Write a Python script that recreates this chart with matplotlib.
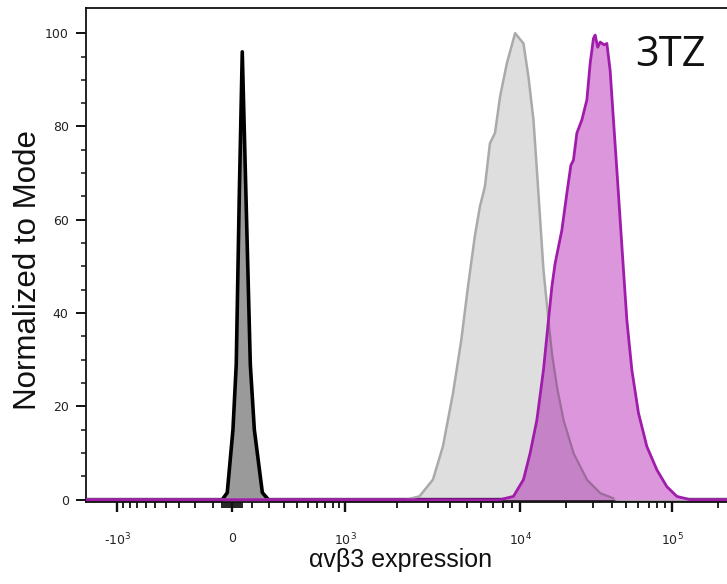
import numpy as np
import matplotlib
matplotlib.use("Agg")
import matplotlib.pyplot as plt
from matplotlib.ticker import FixedLocator, NullFormatter

# ---------------- data (fluorescence intensity vs. % of mode) ----------------
ctrl_x = [-1710, -50.3, -25.1, 3.6, 20.4, 35.8, 51.3, 70.6, 93.5, 115.2, 160.2, 196.3, 230000]
ctrl_y = [0, 0, 1.5, 15, 29, 65, 96, 65, 29, 15, 1.5, 0, 0]

gray_x = [-1710, 2250, 2680, 3200, 3645, 4160, 4640, 5060, 5530, 5910, 6310,
          6740, 7200, 7690, 8400, 9360, 10510, 11340, 12230, 12880, 13540,
          14230, 15350, 16170, 17430, 19270, 22420, 27470, 33600, 43270, 230000]
gray_y = [0, 0, 0.7, 4.3, 11.4, 22.8, 34.3, 45.7, 56.4, 62.8, 67.1,
          76.4, 78.6, 86.4, 93.5, 100, 97.8, 90.6, 81.4, 70.7, 60,
          49.3, 38.5, 31.4, 24.3, 17.1, 10, 4.3, 1.4, 0, 0]

tz_x = [-1710, 7690, 9155, 10510, 11635, 12880, 14230, 15355, 16170, 16990,
        18810, 20290, 21560, 22420, 23610, 25460, 27470, 28870, 30350, 31140,
        32370, 33600, 35690, 37190, 39090, 41100, 43270, 45490, 47820, 50350,
        54320, 60010, 68170, 79320, 92290, 107400, 131300, 230000]
tz_y = [0, 0, 0.7, 4.3, 10, 17.1, 27.8, 38.5, 45.7, 50.7,
        57.8, 65.7, 71.7, 72.8, 78.6, 81.4, 85.7, 93.5, 98.9, 99.6,
        97, 98.1, 97.5, 97.8, 92, 81.4, 70.7, 60, 49.3, 38.5,
        27.8, 18.6, 11.4, 6.4, 2.8, 0.7, 0, 0]

x_ticks = [-1e3, 0, 1e3, 1e4, 1e5]
x_tick_labels = [r"-$10^3$", "0", r"$10^3$", r"$10^4$", r"$10^5$"]
y_ticks = [0, 20, 40, 60, 80, 100]
X_MIN, X_MAX = -1712, 229600
Y_MIN, Y_MAX = -0.5, 105.4

# ---------------- biexponential-like display scale ----------------
COF = 300.0
KNOT_U = np.arcsinh(np.array([-1e6, -1e3, 0, 1e3, 1e4, 1e5, 1e7]) / COF)
KNOT_P = np.array([-294.5, 117, 232, 345, 520, 672, 976])


def fwd(x):
    x = np.asarray(x, dtype=float)
    return np.interp(np.arcsinh(x / COF), KNOT_U, KNOT_P)


def inv(p):
    p = np.asarray(p, dtype=float)
    return COF * np.sinh(np.interp(p, KNOT_P, KNOT_U))


fig = plt.figure(figsize=(7.27, 5.84), dpi=100)
ax = fig.add_axes([86 / 727, 1 - 502 / 584, 641 / 727, 494 / 584])
ax.set_xscale("function", functions=(fwd, inv))
ax.set_xlim(X_MIN, X_MAX)
ax.set_ylim(Y_MIN, Y_MAX)

C_CTRL_FILL, C_CTRL_EDGE = "#9a9a9a", "#000000"
C_GRAY_FILL, C_GRAY_EDGE = "#dedede", "#aaaaaa"
C_TZ_FILL, C_TZ_EDGE = "#dc96dc", "#a01caa"
C_OVERLAP = "#c682c6"

# control
ax.fill_between(ctrl_x, 0, ctrl_y, color=C_CTRL_FILL, lw=0, zorder=2)
ax.plot(ctrl_x, ctrl_y, color=C_CTRL_EDGE, lw=2.6, zorder=3)

# comparison (gray)
ax.fill_between(gray_x, 0, gray_y, color=C_GRAY_FILL, lw=0, zorder=2)
ax.plot(gray_x, gray_y, color=C_GRAY_EDGE, lw=1.8, zorder=3)

# 3TZ (magenta)
ax.fill_between(tz_x, 0, tz_y, color=C_TZ_FILL, lw=0, zorder=4)

# overlap region (darker, as in the reference) and gray outline seen through it
pg = np.linspace(fwd(X_MIN), fwd(X_MAX), 4000)
g_i = np.interp(pg, fwd(gray_x), gray_y)
m_i = np.interp(pg, fwd(tz_x), tz_y)
ax.fill_between(inv(pg), 0, np.minimum(g_i, m_i), color=C_OVERLAP, lw=0, zorder=5)
g_in = np.where((g_i <= m_i) & (g_i > 0.3), g_i, np.nan)
ax.plot(inv(pg), g_in, color="#9c6c9c", lw=1.6, zorder=5.5)
ax.plot(tz_x, tz_y, color=C_TZ_EDGE, lw=2.0, zorder=6)

# 3TZ label
ax.text(0.912, 0.905, "3TZ", transform=ax.transAxes, ha="center", va="center",
        fontsize=30, family="Open Sans", color="#111111")

# ---------------- axes styling ----------------
for s in ["left", "bottom", "top"]:
    ax.spines[s].set_linewidth(1.3)
    ax.spines[s].set_color("#111111")
ax.spines["right"].set_visible(False)

ax.set_xticks(x_ticks)
ax.set_xticklabels(x_tick_labels)
minor_x = ([-v for v in range(100, 1000, 100)] + [-50, -40, -30, -20, -10, 10, 20, 30, 40, 50]
           + list(range(100, 1000, 100)) + [k * 1e3 for k in range(2, 10)]
           + [k * 1e4 for k in range(2, 10)] + [2e5])
ax.xaxis.set_minor_locator(FixedLocator(minor_x))
ax.xaxis.set_minor_formatter(NullFormatter())

ax.set_yticks(y_ticks)
ax.yaxis.set_minor_locator(FixedLocator([v for v in range(5, 105, 5) if v % 20]))

ax.tick_params(axis="x", which="major", direction="out", length=7.5, width=1.7,
               pad=14, labelsize=9, labelcolor="#222222", color="#111111")
ax.tick_params(axis="x", which="minor", direction="out", length=4, width=1.3,
               color="#111111")
ax.tick_params(axis="y", which="major", direction="out", length=7.5, width=1.4,
               pad=5, labelsize=9, labelcolor="#222222", color="#111111")
ax.tick_params(axis="y", which="minor", direction="out", length=3.5, width=1.1,
               color="#111111")

ax.set_ylabel("Normalized to Mode", fontsize=22.5, family="Liberation Sans",
              color="#111111")
ax.yaxis.set_label_coords(-0.067, 0.47)
ax.set_xlabel("αvβ3 expression", fontsize=18, family="Liberation Sans",
              color="#111111")
ax.xaxis.set_label_coords(0.49, -0.093)

fig.savefig("out.png", dpi=100)
